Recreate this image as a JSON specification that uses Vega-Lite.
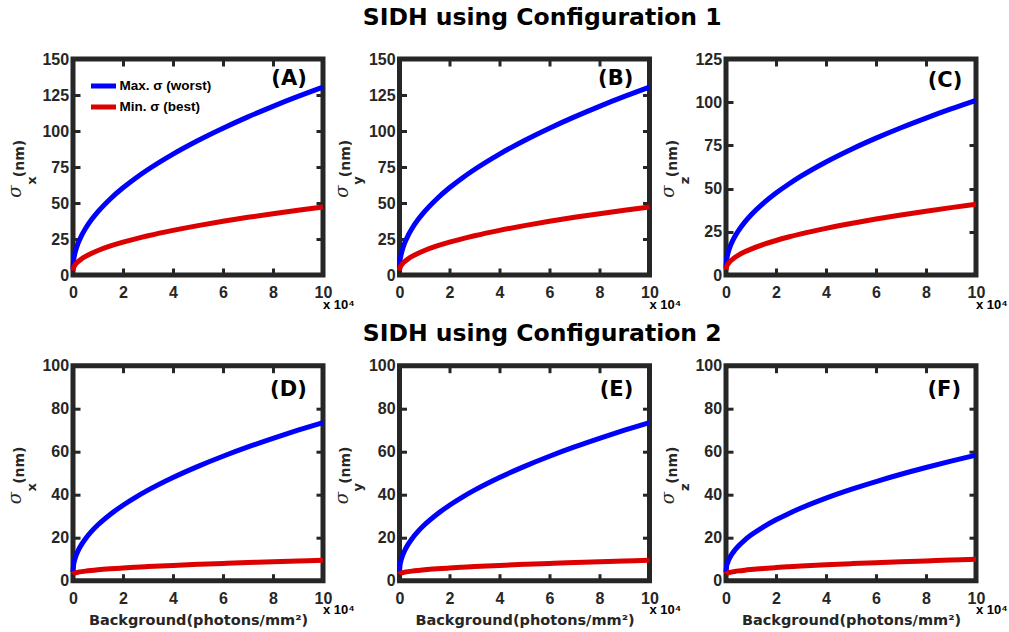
{
  "$schema": "https://vega.github.io/schema/vega-lite/v6.json",
  "padding": {"left": 4, "top": 3, "right": 4, "bottom": 4},
  "background": "white",
  "config": {
    "view": {"stroke": "#262626", "strokeWidth": 5},
    "axis": {"domain": false, "grid": false, "tickColor": "#262626", "tickWidth": 3, "tickSize": -7, "labelFlush": false, "labelFont": "Liberation Sans", "labelFontSize": 16, "labelFontWeight": "bold", "labelColor": "#262626", "titleColor": "#262626", "labelOverlap": false},
    "axisLeft": {"labelPadding": 11.4, "titleFont": "DejaVu Sans", "titleFontSize": 14, "titleFontWeight": "bold", "titleAngle": 270, "titleBaseline": "alphabetic", "titleAlign": "center", "titleX": -49.7, "titleY": 99},
    "axisRight": {"titleFont": "DejaVu Serif", "titleFontStyle": "italic", "titleFontWeight": "normal", "titleFontSize": 18, "titleAngle": 270, "titleBaseline": "alphabetic", "titleAlign": "center", "titleX": -302.2, "titleY": 132},
    "axisTop": {"titleFont": "DejaVu Sans", "titleFontSize": 13, "titleFontWeight": "bold", "titleAngle": 270, "titleBaseline": "alphabetic", "titleAlign": "center", "titleX": -37.7, "titleY": 121},
    "axisBottom": {"labelPadding": 16.5, "titleFont": "DejaVu Sans", "titleFontSize": 14.5, "titleFontWeight": "bold", "titleBaseline": "alphabetic", "titleAlign": "center", "titleAngle": 0, "titleX": 125, "titleY": 44}
  },
  "datasets": {
    "curves": [
      {"p":"A","bg":0,"max":4,"min":3},{"p":"A","bg":0.02,"max":9.66,"min":4.98},{"p":"A","bg":0.05,"max":12.94,"min":6.13},{"p":"A","bg":0.1,"max":16.65,"min":7.43},{"p":"A","bg":0.2,"max":21.89,"min":9.26},{"p":"A","bg":0.35,"max":27.66,"min":11.28},{"p":"A","bg":0.5,"max":32.28,"min":12.9},{"p":"A","bg":0.75,"max":38.64,"min":15.12},{"p":"A","bg":1,"max":44,"min":17},{"p":"A","bg":1.5,"max":52.99,"min":20.15},{"p":"A","bg":2,"max":60.57,"min":22.8},{"p":"A","bg":2.5,"max":67.24,"min":25.14},{"p":"A","bg":3,"max":73.28,"min":27.25},{"p":"A","bg":4,"max":84,"min":31},{"p":"A","bg":5,"max":93.44,"min":34.31},{"p":"A","bg":6,"max":101.98,"min":37.29},{"p":"A","bg":7,"max":109.83,"min":40.04},{"p":"A","bg":8,"max":117.14,"min":42.6},{"p":"A","bg":9,"max":124,"min":45},{"p":"A","bg":10,"max":130.49,"min":47.27},
      {"p":"B","bg":0,"max":4,"min":3},{"p":"B","bg":0.02,"max":9.66,"min":4.98},{"p":"B","bg":0.05,"max":12.94,"min":6.13},{"p":"B","bg":0.1,"max":16.65,"min":7.43},{"p":"B","bg":0.2,"max":21.89,"min":9.26},{"p":"B","bg":0.35,"max":27.66,"min":11.28},{"p":"B","bg":0.5,"max":32.28,"min":12.9},{"p":"B","bg":0.75,"max":38.64,"min":15.12},{"p":"B","bg":1,"max":44,"min":17},{"p":"B","bg":1.5,"max":52.99,"min":20.15},{"p":"B","bg":2,"max":60.57,"min":22.8},{"p":"B","bg":2.5,"max":67.24,"min":25.14},{"p":"B","bg":3,"max":73.28,"min":27.25},{"p":"B","bg":4,"max":84,"min":31},{"p":"B","bg":5,"max":93.44,"min":34.31},{"p":"B","bg":6,"max":101.98,"min":37.29},{"p":"B","bg":7,"max":109.83,"min":40.04},{"p":"B","bg":8,"max":117.14,"min":42.6},{"p":"B","bg":9,"max":124,"min":45},{"p":"B","bg":10,"max":130.49,"min":47.27},
      {"p":"C","bg":0,"max":4,"min":3},{"p":"C","bg":0.02,"max":8.34,"min":4.7},{"p":"C","bg":0.05,"max":10.86,"min":5.68},{"p":"C","bg":0.1,"max":13.71,"min":6.79},{"p":"C","bg":0.2,"max":17.73,"min":8.37},{"p":"C","bg":0.35,"max":22.16,"min":10.1},{"p":"C","bg":0.5,"max":25.71,"min":11.49},{"p":"C","bg":0.75,"max":30.59,"min":13.39},{"p":"C","bg":1,"max":34.7,"min":15},{"p":"C","bg":1.5,"max":41.6,"min":17.7},{"p":"C","bg":2,"max":47.42,"min":19.97},{"p":"C","bg":2.5,"max":52.54,"min":21.97},{"p":"C","bg":3,"max":57.18,"min":23.79},{"p":"C","bg":4,"max":65.4,"min":27},{"p":"C","bg":5,"max":72.65,"min":29.83},{"p":"C","bg":6,"max":79.2,"min":32.39},{"p":"C","bg":7,"max":85.23,"min":34.75},{"p":"C","bg":8,"max":90.83,"min":36.94},{"p":"C","bg":9,"max":96.1,"min":39},{"p":"C","bg":10,"max":101.08,"min":40.95},
      {"p":"D","bg":0,"max":4,"min":3},{"p":"D","bg":0.02,"max":7.11,"min":3.29},{"p":"D","bg":0.05,"max":8.92,"min":3.46},{"p":"D","bg":0.1,"max":10.96,"min":3.65},{"p":"D","bg":0.2,"max":13.84,"min":3.92},{"p":"D","bg":0.35,"max":17.02,"min":4.22},{"p":"D","bg":0.5,"max":19.56,"min":4.46},{"p":"D","bg":0.75,"max":23.05,"min":4.78},{"p":"D","bg":1,"max":26,"min":5.06},{"p":"D","bg":1.5,"max":30.94,"min":5.52},{"p":"D","bg":2,"max":35.11,"min":5.91},{"p":"D","bg":2.5,"max":38.78,"min":6.26},{"p":"D","bg":3,"max":42.11,"min":6.57},{"p":"D","bg":4,"max":48,"min":7.12},{"p":"D","bg":5,"max":53.19,"min":7.61},{"p":"D","bg":6,"max":57.89,"min":8.05},{"p":"D","bg":7,"max":62.21,"min":8.45},{"p":"D","bg":8,"max":66.22,"min":8.83},{"p":"D","bg":9,"max":70,"min":9.18},{"p":"D","bg":10,"max":73.57,"min":9.51},
      {"p":"E","bg":0,"max":4,"min":3},{"p":"E","bg":0.02,"max":7.11,"min":3.29},{"p":"E","bg":0.05,"max":8.92,"min":3.46},{"p":"E","bg":0.1,"max":10.96,"min":3.65},{"p":"E","bg":0.2,"max":13.84,"min":3.92},{"p":"E","bg":0.35,"max":17.02,"min":4.22},{"p":"E","bg":0.5,"max":19.56,"min":4.46},{"p":"E","bg":0.75,"max":23.05,"min":4.78},{"p":"E","bg":1,"max":26,"min":5.06},{"p":"E","bg":1.5,"max":30.94,"min":5.52},{"p":"E","bg":2,"max":35.11,"min":5.91},{"p":"E","bg":2.5,"max":38.78,"min":6.26},{"p":"E","bg":3,"max":42.11,"min":6.57},{"p":"E","bg":4,"max":48,"min":7.12},{"p":"E","bg":5,"max":53.19,"min":7.61},{"p":"E","bg":6,"max":57.89,"min":8.05},{"p":"E","bg":7,"max":62.21,"min":8.45},{"p":"E","bg":8,"max":66.22,"min":8.83},{"p":"E","bg":9,"max":70,"min":9.18},{"p":"E","bg":10,"max":73.57,"min":9.51},
      {"p":"F","bg":0,"max":4,"min":3},{"p":"F","bg":0.02,"max":6.43,"min":3.31},{"p":"F","bg":0.05,"max":7.85,"min":3.49},{"p":"F","bg":0.1,"max":9.44,"min":3.7},{"p":"F","bg":0.2,"max":11.69,"min":3.98},{"p":"F","bg":0.35,"max":14.18,"min":4.3},{"p":"F","bg":0.5,"max":16.16,"min":4.56},{"p":"F","bg":0.75,"max":18.9,"min":4.91},{"p":"F","bg":1,"max":21.2,"min":5.2},{"p":"F","bg":1.5,"max":25.06,"min":5.69},{"p":"F","bg":2,"max":28.32,"min":6.11},{"p":"F","bg":2.5,"max":31.19,"min":6.48},{"p":"F","bg":3,"max":33.79,"min":6.81},{"p":"F","bg":4,"max":38.4,"min":7.4},{"p":"F","bg":5,"max":42.46,"min":7.92},{"p":"F","bg":6,"max":46.13,"min":8.39},{"p":"F","bg":7,"max":49.51,"min":8.82},{"p":"F","bg":8,"max":52.65,"min":9.22},{"p":"F","bg":9,"max":55.6,"min":9.6},{"p":"F","bg":10,"max":58.39,"min":9.96}
    ],
    "labels": [
      {"p":"A","t":"(A)","x":9.35,"y":135.8,"mx":10,"my":0},
      {"p":"B","t":"(B)","x":9.35,"y":135.8,"mx":10,"my":0},
      {"p":"C","t":"(C)","x":9.45,"y":112.3,"mx":10,"my":0},
      {"p":"D","t":"(D)","x":9.35,"y":88.8,"mx":10,"my":0},
      {"p":"E","t":"(E)","x":9.35,"y":88.8,"mx":10,"my":0},
      {"p":"F","t":"(F)","x":9.4,"y":88.8,"mx":10,"my":0}
    ]
  },
  "columns": 3,
  "bounds": "flush",
  "spacing": {"column": 76.5, "row": 90.7},
  "resolve": {"scale": {"color": "independent"}, "legend": {"color": "independent"}},
  "concat": [
    {
      "width": 250, "height": 216,
      "data": {"name": "curves"},
      "transform": [{"filter": "datum.p == 'A'"}, {"fold": ["max", "min"], "as": ["key", "sigma"]}],
      "layer": [
        {"mark": {"type": "line", "strokeWidth": 5, "interpolate": "monotone"},
         "encoding": {
           "x": {"field": "bg", "type": "quantitative", "scale": {"domain": [0, 10], "nice": false}, "axis": {"orient": "bottom", "values": [0,2,4,6,8,10], "title": null}},
           "y": {"field": "sigma", "type": "quantitative", "scale": {"domain": [0, 150], "nice": false}, "axis": {"orient": "left", "values": [0,25,50,75,100,125,150], "title": "(nm)"}},
           "color": {"field": "key", "type": "nominal", "scale": {"domain": ["max", "min"], "range": ["#0000ff", "#dc0000"]},
             "legend": {"orient": "none", "legendX": 21, "legendY": 17.5, "title": null, "padding": 0, "symbolType": "M-1.786,0H1.786", "symbolSize": 196, "symbolStrokeWidth": 5, "labelFont": "Liberation Sans", "labelFontSize": 13.5, "labelFontWeight": "bold", "labelColor": "#000000", "labelOffset": 6.6, "rowPadding": 0, "labelExpr": "datum.label == 'max' ? 'Max. σ (worst)' : 'Min. σ (best)'"}}
         }},
        {"mark": {"type": "point", "opacity": 0},
         "encoding": {
           "x": {"field": "bg", "type": "quantitative", "axis": {"orient": "top", "labels": false, "values": [0,2,4,6,8,10], "title": "x"}},
           "y": {"field": "sigma", "type": "quantitative", "axis": {"orient": "right", "labels": false, "values": [0,25,50,75,100,125,150], "title": "σ"}}
         }},
        {"data": {"name": "labels"}, "transform": [{"filter": "datum.p == 'A'"}],
         "mark": {"type": "text", "align": "right", "baseline": "middle", "font": "DejaVu Sans", "fontSize": 21, "fontWeight": "bold", "color": "#000000"},
         "encoding": {"x": {"field": "x", "type": "quantitative", "axis": null}, "y": {"field": "y", "type": "quantitative", "axis": null}, "text": {"field": "t"}}},
        {"data": {"name": "labels"}, "transform": [{"filter": "datum.p == 'A'"}],
         "mark": {"type": "text", "text": "x 10⁴", "align": "left", "baseline": "alphabetic", "dx": 0, "dy": 33.5, "font": "Liberation Sans", "fontSize": 13, "fontWeight": "bold", "color": "#000000"},
         "encoding": {"x": {"field": "mx", "type": "quantitative", "axis": null}, "y": {"field": "my", "type": "quantitative", "axis": null}}}
      ],
      "resolve": {"axis": {"x": "independent", "y": "independent"}}
    },
    {
      "width": 250, "height": 216,
      "title": {"text": "SIDH using Configuration 1", "anchor": "middle", "frame": "group", "dx": 17.7, "offset": 3, "baseline": "alphabetic", "font": "DejaVu Sans", "fontSize": 23.5, "fontWeight": "bold", "color": "#000000"},
      "data": {"name": "curves"},
      "transform": [{"filter": "datum.p == 'B'"}, {"fold": ["max", "min"], "as": ["key", "sigma"]}],
      "layer": [
        {"mark": {"type": "line", "strokeWidth": 5, "interpolate": "monotone"},
         "encoding": {
           "x": {"field": "bg", "type": "quantitative", "scale": {"domain": [0, 10], "nice": false}, "axis": {"orient": "bottom", "values": [0,2,4,6,8,10], "title": null}},
           "y": {"field": "sigma", "type": "quantitative", "scale": {"domain": [0, 150], "nice": false}, "axis": {"orient": "left", "values": [0,25,50,75,100,125,150], "title": "(nm)"}},
           "color": {"field": "key", "type": "nominal", "scale": {"domain": ["max", "min"], "range": ["#0000ff", "#dc0000"]}, "legend": null}
         }},
        {"mark": {"type": "point", "opacity": 0},
         "encoding": {
           "x": {"field": "bg", "type": "quantitative", "axis": {"orient": "top", "labels": false, "values": [0,2,4,6,8,10], "title": "y"}},
           "y": {"field": "sigma", "type": "quantitative", "axis": {"orient": "right", "labels": false, "values": [0,25,50,75,100,125,150], "title": "σ"}}
         }},
        {"data": {"name": "labels"}, "transform": [{"filter": "datum.p == 'B'"}],
         "mark": {"type": "text", "align": "right", "baseline": "middle", "font": "DejaVu Sans", "fontSize": 21, "fontWeight": "bold", "color": "#000000"},
         "encoding": {"x": {"field": "x", "type": "quantitative", "axis": null}, "y": {"field": "y", "type": "quantitative", "axis": null}, "text": {"field": "t"}}},
        {"data": {"name": "labels"}, "transform": [{"filter": "datum.p == 'B'"}],
         "mark": {"type": "text", "text": "x 10⁴", "align": "left", "baseline": "alphabetic", "dx": 0, "dy": 33.5, "font": "Liberation Sans", "fontSize": 13, "fontWeight": "bold", "color": "#000000"},
         "encoding": {"x": {"field": "mx", "type": "quantitative", "axis": null}, "y": {"field": "my", "type": "quantitative", "axis": null}}}
      ],
      "resolve": {"axis": {"x": "independent", "y": "independent"}}
    },
    {
      "width": 250, "height": 216,
      "data": {"name": "curves"},
      "transform": [{"filter": "datum.p == 'C'"}, {"fold": ["max", "min"], "as": ["key", "sigma"]}],
      "layer": [
        {"mark": {"type": "line", "strokeWidth": 5, "interpolate": "monotone"},
         "encoding": {
           "x": {"field": "bg", "type": "quantitative", "scale": {"domain": [0, 10], "nice": false}, "axis": {"orient": "bottom", "values": [0,2,4,6,8,10], "title": null}},
           "y": {"field": "sigma", "type": "quantitative", "scale": {"domain": [0, 125], "nice": false}, "axis": {"orient": "left", "values": [0,25,50,75,100,125], "title": "(nm)"}},
           "color": {"field": "key", "type": "nominal", "scale": {"domain": ["max", "min"], "range": ["#0000ff", "#dc0000"]}, "legend": null}
         }},
        {"mark": {"type": "point", "opacity": 0},
         "encoding": {
           "x": {"field": "bg", "type": "quantitative", "axis": {"orient": "top", "labels": false, "values": [0,2,4,6,8,10], "title": "z"}},
           "y": {"field": "sigma", "type": "quantitative", "axis": {"orient": "right", "labels": false, "values": [0,25,50,75,100,125], "title": "σ"}}
         }},
        {"data": {"name": "labels"}, "transform": [{"filter": "datum.p == 'C'"}],
         "mark": {"type": "text", "align": "right", "baseline": "middle", "font": "DejaVu Sans", "fontSize": 21, "fontWeight": "bold", "color": "#000000"},
         "encoding": {"x": {"field": "x", "type": "quantitative", "axis": null}, "y": {"field": "y", "type": "quantitative", "axis": null}, "text": {"field": "t"}}},
        {"data": {"name": "labels"}, "transform": [{"filter": "datum.p == 'C'"}],
         "mark": {"type": "text", "text": "x 10⁴", "align": "left", "baseline": "alphabetic", "dx": 0, "dy": 33.5, "font": "Liberation Sans", "fontSize": 13, "fontWeight": "bold", "color": "#000000"},
         "encoding": {"x": {"field": "mx", "type": "quantitative", "axis": null}, "y": {"field": "my", "type": "quantitative", "axis": null}}}
      ],
      "resolve": {"axis": {"x": "independent", "y": "independent"}}
    },
    {
      "width": 250, "height": 215,
      "data": {"name": "curves"},
      "transform": [{"filter": "datum.p == 'D'"}, {"fold": ["max", "min"], "as": ["key", "sigma"]}],
      "layer": [
        {"mark": {"type": "line", "strokeWidth": 5, "interpolate": "monotone"},
         "encoding": {
           "x": {"field": "bg", "type": "quantitative", "scale": {"domain": [0, 10], "nice": false}, "axis": {"orient": "bottom", "values": [0,2,4,6,8,10], "title": "Background(photons/mm²)"}},
           "y": {"field": "sigma", "type": "quantitative", "scale": {"domain": [0, 100], "nice": false}, "axis": {"orient": "left", "values": [0,20,40,60,80,100], "title": "(nm)"}},
           "color": {"field": "key", "type": "nominal", "scale": {"domain": ["max", "min"], "range": ["#0000ff", "#dc0000"]}, "legend": null}
         }},
        {"mark": {"type": "point", "opacity": 0},
         "encoding": {
           "x": {"field": "bg", "type": "quantitative", "axis": {"orient": "top", "labels": false, "values": [0,2,4,6,8,10], "title": "x"}},
           "y": {"field": "sigma", "type": "quantitative", "axis": {"orient": "right", "labels": false, "values": [0,20,40,60,80,100], "title": "σ"}}
         }},
        {"data": {"name": "labels"}, "transform": [{"filter": "datum.p == 'D'"}],
         "mark": {"type": "text", "align": "right", "baseline": "middle", "font": "DejaVu Sans", "fontSize": 21, "fontWeight": "bold", "color": "#000000"},
         "encoding": {"x": {"field": "x", "type": "quantitative", "axis": null}, "y": {"field": "y", "type": "quantitative", "axis": null}, "text": {"field": "t"}}},
        {"data": {"name": "labels"}, "transform": [{"filter": "datum.p == 'D'"}],
         "mark": {"type": "text", "text": "x 10⁴", "align": "left", "baseline": "alphabetic", "dx": 0, "dy": 33.5, "font": "Liberation Sans", "fontSize": 13, "fontWeight": "bold", "color": "#000000"},
         "encoding": {"x": {"field": "mx", "type": "quantitative", "axis": null}, "y": {"field": "my", "type": "quantitative", "axis": null}}}
      ],
      "resolve": {"axis": {"x": "independent", "y": "independent"}}
    },
    {
      "width": 250, "height": 215,
      "title": {"text": "SIDH using Configuration 2", "anchor": "middle", "frame": "group", "dx": 17.7, "offset": -7, "baseline": "alphabetic", "font": "DejaVu Sans", "fontSize": 23.5, "fontWeight": "bold", "color": "#000000"},
      "data": {"name": "curves"},
      "transform": [{"filter": "datum.p == 'E'"}, {"fold": ["max", "min"], "as": ["key", "sigma"]}],
      "layer": [
        {"mark": {"type": "line", "strokeWidth": 5, "interpolate": "monotone"},
         "encoding": {
           "x": {"field": "bg", "type": "quantitative", "scale": {"domain": [0, 10], "nice": false}, "axis": {"orient": "bottom", "values": [0,2,4,6,8,10], "title": "Background(photons/mm²)"}},
           "y": {"field": "sigma", "type": "quantitative", "scale": {"domain": [0, 100], "nice": false}, "axis": {"orient": "left", "values": [0,20,40,60,80,100], "title": "(nm)"}},
           "color": {"field": "key", "type": "nominal", "scale": {"domain": ["max", "min"], "range": ["#0000ff", "#dc0000"]}, "legend": null}
         }},
        {"mark": {"type": "point", "opacity": 0},
         "encoding": {
           "x": {"field": "bg", "type": "quantitative", "axis": {"orient": "top", "labels": false, "values": [0,2,4,6,8,10], "title": "y"}},
           "y": {"field": "sigma", "type": "quantitative", "axis": {"orient": "right", "labels": false, "values": [0,20,40,60,80,100], "title": "σ"}}
         }},
        {"data": {"name": "labels"}, "transform": [{"filter": "datum.p == 'E'"}],
         "mark": {"type": "text", "align": "right", "baseline": "middle", "font": "DejaVu Sans", "fontSize": 21, "fontWeight": "bold", "color": "#000000"},
         "encoding": {"x": {"field": "x", "type": "quantitative", "axis": null}, "y": {"field": "y", "type": "quantitative", "axis": null}, "text": {"field": "t"}}},
        {"data": {"name": "labels"}, "transform": [{"filter": "datum.p == 'E'"}],
         "mark": {"type": "text", "text": "x 10⁴", "align": "left", "baseline": "alphabetic", "dx": 0, "dy": 33.5, "font": "Liberation Sans", "fontSize": 13, "fontWeight": "bold", "color": "#000000"},
         "encoding": {"x": {"field": "mx", "type": "quantitative", "axis": null}, "y": {"field": "my", "type": "quantitative", "axis": null}}}
      ],
      "resolve": {"axis": {"x": "independent", "y": "independent"}}
    },
    {
      "width": 250, "height": 215,
      "data": {"name": "curves"},
      "transform": [{"filter": "datum.p == 'F'"}, {"fold": ["max", "min"], "as": ["key", "sigma"]}],
      "layer": [
        {"mark": {"type": "line", "strokeWidth": 5, "interpolate": "monotone"},
         "encoding": {
           "x": {"field": "bg", "type": "quantitative", "scale": {"domain": [0, 10], "nice": false}, "axis": {"orient": "bottom", "values": [0,2,4,6,8,10], "title": "Background(photons/mm²)"}},
           "y": {"field": "sigma", "type": "quantitative", "scale": {"domain": [0, 100], "nice": false}, "axis": {"orient": "left", "values": [0,20,40,60,80,100], "title": "(nm)"}},
           "color": {"field": "key", "type": "nominal", "scale": {"domain": ["max", "min"], "range": ["#0000ff", "#dc0000"]}, "legend": null}
         }},
        {"mark": {"type": "point", "opacity": 0},
         "encoding": {
           "x": {"field": "bg", "type": "quantitative", "axis": {"orient": "top", "labels": false, "values": [0,2,4,6,8,10], "title": "z"}},
           "y": {"field": "sigma", "type": "quantitative", "axis": {"orient": "right", "labels": false, "values": [0,20,40,60,80,100], "title": "σ"}}
         }},
        {"data": {"name": "labels"}, "transform": [{"filter": "datum.p == 'F'"}],
         "mark": {"type": "text", "align": "right", "baseline": "middle", "font": "DejaVu Sans", "fontSize": 21, "fontWeight": "bold", "color": "#000000"},
         "encoding": {"x": {"field": "x", "type": "quantitative", "axis": null}, "y": {"field": "y", "type": "quantitative", "axis": null}, "text": {"field": "t"}}},
        {"data": {"name": "labels"}, "transform": [{"filter": "datum.p == 'F'"}],
         "mark": {"type": "text", "text": "x 10⁴", "align": "left", "baseline": "alphabetic", "dx": 0, "dy": 33.5, "font": "Liberation Sans", "fontSize": 13, "fontWeight": "bold", "color": "#000000"},
         "encoding": {"x": {"field": "mx", "type": "quantitative", "axis": null}, "y": {"field": "my", "type": "quantitative", "axis": null}}}
      ],
      "resolve": {"axis": {"x": "independent", "y": "independent"}}
    }
  ]
}
